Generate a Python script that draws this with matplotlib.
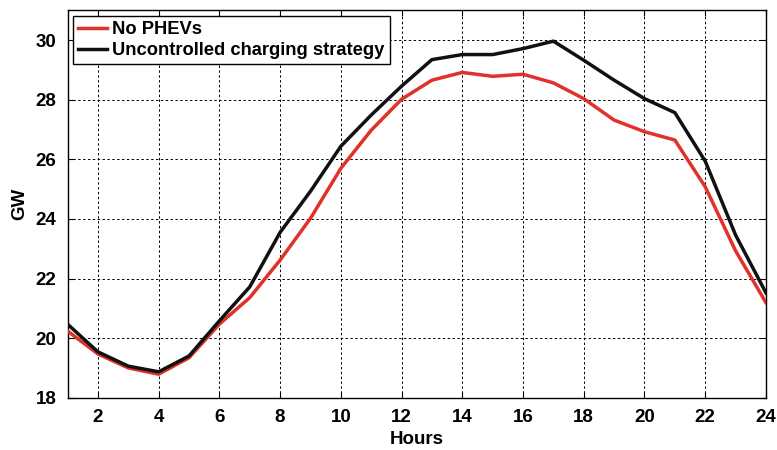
import numpy as np
from matplotlib import pyplot as plt

hours = list(range(1, 25))

# hourly demand without PHEVs, GW
no_phev = [20.24, 19.47, 19.00, 18.79, 19.34, 20.47, 21.36, 22.62, 24.02, 25.70,
           26.98, 28.02, 28.66, 28.92, 28.79, 28.86, 28.57, 28.04, 27.32, 26.93,
           26.65, 25.08, 22.93, 21.19]

# hourly demand with uncontrolled charging, GW
uncontrolled = [20.47, 19.54, 19.06, 18.87, 19.40, 20.58, 21.72, 23.55, 24.93, 26.44,
                27.49, 28.46, 29.35, 29.52, 29.52, 29.72, 29.97, 29.33, 28.66, 28.04,
                27.57, 25.94, 23.46, 21.52]

xticks = list(range(2, 25, 2))
yticks = list(range(18, 31, 2))

plt.rcParams['font.family'] = ['Liberation Sans', 'DejaVu Sans']
plt.rcParams['font.weight'] = 'bold'

fig = plt.figure(figsize=(7.77, 4.5), dpi=100)
ax = fig.add_axes([0.0869, 0.1162, 0.8989, 0.8605])

ax.plot(hours, no_phev, color='#e2302b', lw=2.5, label='No PHEVs', zorder=3)
ax.plot(hours, uncontrolled, color='#111111', lw=2.5, label='Uncontrolled charging strategy', zorder=3)

ax.set_xlim(1, 24)
ax.set_ylim(18, 31)
ax.set_xticks(xticks)
ax.set_yticks(yticks)
ax.grid(True, color='black', linestyle=(0, (2.5, 2.5)), linewidth=0.7)
ax.tick_params(direction='in', length=4, width=0.8, labelsize=13.5, top=True, right=True, pad=8)
for lbl in ax.get_xticklabels() + ax.get_yticklabels():
    lbl.set_fontweight('bold')
for sp in ax.spines.values():
    sp.set_linewidth(1.0)

ax.set_xlabel('Hours', fontsize=13.5, fontweight='bold', labelpad=4)
ax.set_ylabel('GW', fontsize=13.5, fontweight='bold', labelpad=5)

leg = ax.legend(loc='upper left', fontsize=13.2, frameon=True, fancybox=False,
                handlelength=1.6, handletextpad=0.25, borderpad=0.28, labelspacing=0.22,
                borderaxespad=0.3)
leg.get_frame().set_edgecolor('black')
leg.get_frame().set_linewidth(1.0)
leg.get_frame().set_alpha(1)
for t in leg.get_texts():
    t.set_fontweight('bold')

plt.savefig('out.png', dpi=100)
